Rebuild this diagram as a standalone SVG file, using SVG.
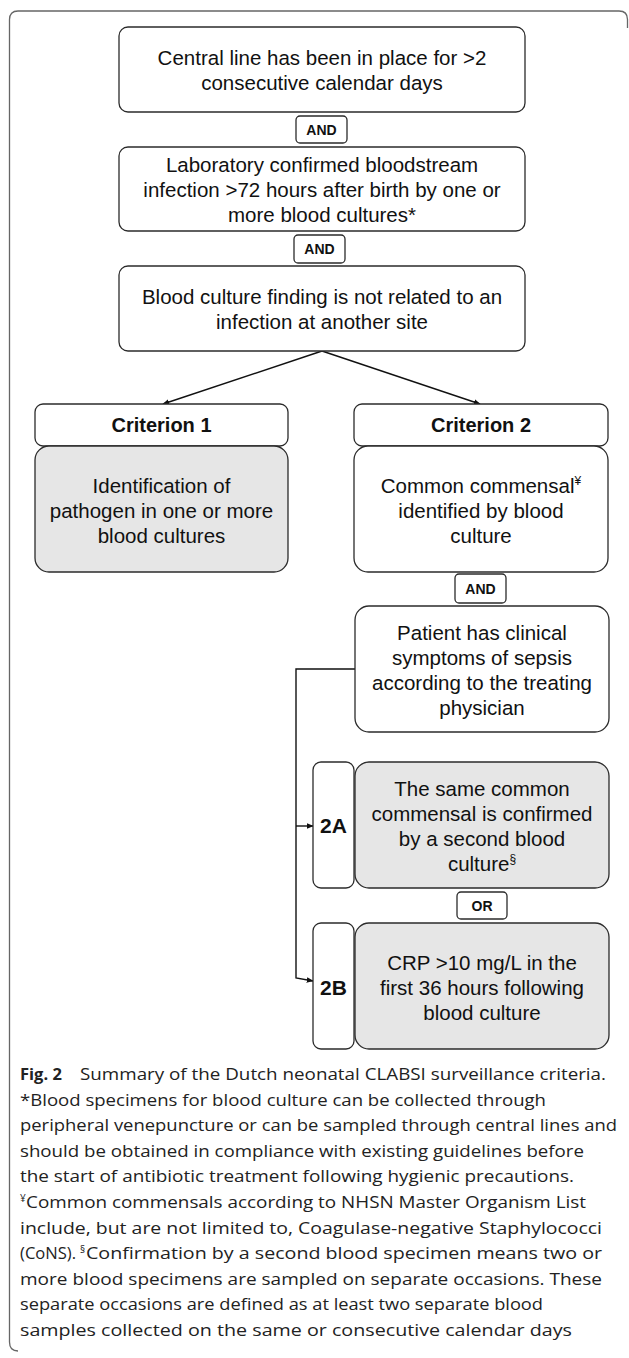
<svg xmlns="http://www.w3.org/2000/svg" width="629" height="1358" viewBox="0 0 629 1358">
<style>
.box{fill:#fff;stroke:#2b2b2b;stroke-width:1.3}
.gray{fill:#e6e6e6;stroke:#2b2b2b;stroke-width:1.3}
.t{font-family:"Liberation Sans",Arial,sans-serif;font-size:20.5px;fill:#111;text-anchor:middle}
.b{font-family:"Liberation Sans",Arial,sans-serif;font-weight:bold;fill:#111;text-anchor:middle}
.and{font-size:14px}
.hdr{font-size:20px}
.lbl{font-size:21px}
.sup{font-size:12px}
.cap{font-family:"Open Sans","Noto Sans",sans-serif;font-size:16.5px;fill:#222}
.line{fill:none;stroke:#111;stroke-width:1.4}
</style>
<defs>
<marker id="ah" viewBox="0 0 10 10" refX="9" refY="5" markerWidth="7" markerHeight="7" orient="auto" markerUnits="userSpaceOnUse">
<path d="M0,1 L10,5 L0,9 z" fill="#111"/>
</marker>
</defs>
<path id="frame" d="M18,1351 Q9.5,1351 9.5,1342 V19.5 Q9.5,11 18,11 H619 Q627.5,11 627.5,19.5 V28" fill="none" stroke="#666" stroke-width="1.3"/>
<g id="connectors">
<line class="line" x1="322" y1="351" x2="163" y2="404" marker-end="url(#ah)"/>
<line class="line" x1="322" y1="351" x2="480" y2="404" marker-end="url(#ah)"/>
<path class="line" d="M355,669 H296 V978 L313,981" marker-end="url(#ah)"/>
<line class="line" x1="296" y1="826" x2="313" y2="826" marker-end="url(#ah)"/>
</g>
<g id="n1">
<rect class="box" x="119" y="27" width="406" height="85" rx="9"/>
<text class="t" x="322" y="65">Central line has been in place for &gt;2</text>
<text class="t" x="322" y="90">consecutive calendar days</text>
</g>
<g id="and1">
<rect class="box" x="296" y="116" width="51" height="27" rx="4"/>
<text class="b and" x="321.5" y="134.5">AND</text>
</g>
<g id="n2">
<rect class="box" x="119" y="147" width="406" height="84" rx="9"/>
<text class="t" x="322" y="172">Laboratory confirmed bloodstream</text>
<text class="t" x="322" y="197">infection &gt;72 hours after birth by one or</text>
<text class="t" x="322" y="222">more blood cultures*</text>
</g>
<g id="and2">
<rect class="box" x="294" y="235" width="51" height="28" rx="4"/>
<text class="b and" x="319.5" y="254">AND</text>
</g>
<g id="n3">
<rect class="box" x="119" y="266" width="406" height="85" rx="9"/>
<text class="t" x="322" y="303.5">Blood culture finding is not related to an</text>
<text class="t" x="322" y="329">infection at another site</text>
</g>
<g id="crit1">
<rect class="box" x="35" y="404" width="253" height="42" rx="8"/>
<text class="b hdr" x="161.5" y="432">Criterion 1</text>
</g>
<g id="crit1body">
<rect class="gray" x="35" y="446" width="253" height="126" rx="14"/>
<text class="t" x="161.5" y="493">Identification of</text>
<text class="t" x="161.5" y="518">pathogen in one or more</text>
<text class="t" x="161.5" y="543">blood cultures</text>
</g>
<g id="crit2">
<rect class="box" x="354" y="404" width="254" height="42" rx="8"/>
<text class="b hdr" x="481" y="432">Criterion 2</text>
</g>
<g id="crit2body">
<rect class="box" x="354" y="446" width="254" height="126" rx="14"/>
<text class="t" x="481" y="493">Common commensal<tspan class="sup" dy="-8">¥</tspan></text>
<text class="t" x="481" y="518">identified by blood</text>
<text class="t" x="481" y="543">culture</text>
</g>
<g id="and3">
<rect class="box" x="455" y="574" width="51" height="29" rx="4"/>
<text class="b and" x="480.5" y="593.5">AND</text>
</g>
<g id="patient">
<rect class="box" x="355" y="606" width="254" height="126" rx="14"/>
<text class="t" x="482" y="640">Patient has clinical</text>
<text class="t" x="482" y="665">symptoms of sepsis</text>
<text class="t" x="482" y="690">according to the treating</text>
<text class="t" x="482" y="715">physician</text>
</g>
<g id="l2a">
<rect class="box" x="313" y="762" width="41" height="126" rx="8"/>
<text class="b lbl" x="333.5" y="833">2A</text>
</g>
<g id="n2a">
<rect class="gray" x="355" y="762" width="254" height="126" rx="14"/>
<text class="t" x="482" y="796">The same common</text>
<text class="t" x="482" y="821">commensal is confirmed</text>
<text class="t" x="482" y="846">by a second blood</text>
<text class="t" x="482" y="871">culture<tspan class="sup" dy="-8">§</tspan></text>
</g>
<g id="or">
<rect class="box" x="457" y="892" width="50" height="27" rx="4"/>
<text class="b and" x="482" y="910.5">OR</text>
</g>
<g id="l2b">
<rect class="box" x="313" y="923" width="41" height="126" rx="8"/>
<text class="b lbl" x="333.5" y="995">2B</text>
</g>
<g id="n2b">
<rect class="gray" x="355" y="923" width="254" height="126" rx="14"/>
<text class="t" x="482" y="970">CRP &gt;10 mg/L in the</text>
<text class="t" x="482" y="995">first 36 hours following</text>
<text class="t" x="482" y="1020">blood culture</text>
</g>
<g id="caption" class="cap">
<text x="20" y="1080" font-weight="bold">Fig. 2</text>
<text x="80" y="1080" textLength="526" lengthAdjust="spacingAndGlyphs">Summary of the Dutch neonatal CLABSI surveillance criteria.</text>
<text x="20" y="1105.6" textLength="526" lengthAdjust="spacingAndGlyphs">*Blood specimens for blood culture can be collected through</text>
<text x="20" y="1131.2" textLength="597" lengthAdjust="spacingAndGlyphs">peripheral venepuncture or can be sampled through central lines and</text>
<text x="20" y="1156.8" textLength="564" lengthAdjust="spacingAndGlyphs">should be obtained in compliance with existing guidelines before</text>
<text x="20" y="1182.4" textLength="554" lengthAdjust="spacingAndGlyphs">the start of antibiotic treatment following hygienic precautions.</text>
<text x="20" y="1202" font-size="10">¥</text>
<text x="26" y="1208" textLength="560" lengthAdjust="spacingAndGlyphs">Common commensals according to NHSN Master Organism List</text>
<text x="20" y="1233.6" textLength="582" lengthAdjust="spacingAndGlyphs">include, but are not limited to, Coagulase-negative Staphylococci</text>
<text x="20" y="1259.2" textLength="56" lengthAdjust="spacingAndGlyphs">(CoNS).</text>
<text x="80" y="1253" font-size="10">§</text>
<text x="86" y="1259.2" textLength="516" lengthAdjust="spacingAndGlyphs">Confirmation by a second blood specimen means two or</text>
<text x="20" y="1284.8" textLength="582" lengthAdjust="spacingAndGlyphs">more blood specimens are sampled on separate occasions. These</text>
<text x="20" y="1310.4" textLength="523" lengthAdjust="spacingAndGlyphs">separate occasions are defined as at least two separate blood</text>
<text x="20" y="1336" textLength="552" lengthAdjust="spacingAndGlyphs">samples collected on the same or consecutive calendar days</text>
</g>
</svg>
